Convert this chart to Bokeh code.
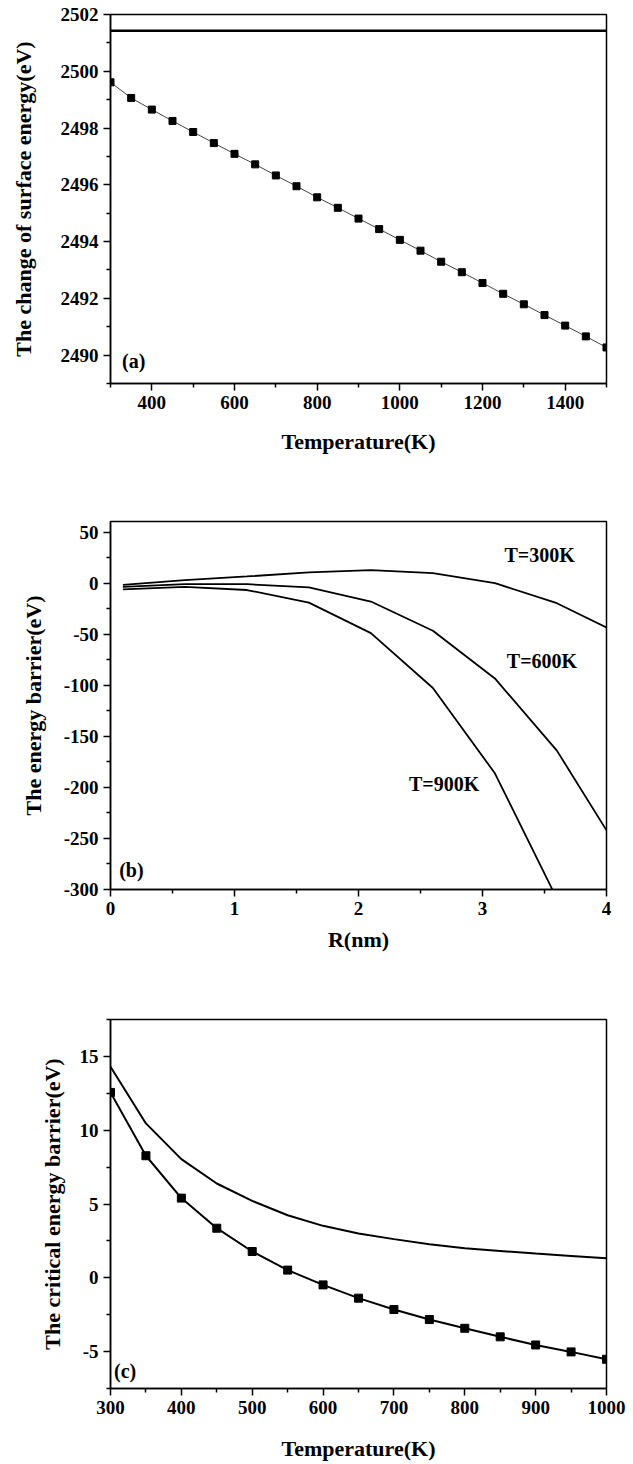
from bokeh.plotting import figure
from bokeh.layouts import column
from bokeh.models import FixedTicker, Range1d, Label, PrintfTickFormatter
from bokeh.embed import file_html
from bokeh.resources import INLINE

# ---------------- data ----------------
# (a) change of surface energy vs temperature
a_temp = [300, 350, 400, 450, 500, 550, 600, 650, 700, 750, 800, 850, 900,
          950, 1000, 1050, 1100, 1150, 1200, 1250, 1300, 1350, 1400, 1450, 1500]
a_energy = [2499.61, 2499.06, 2498.65, 2498.25, 2497.86, 2497.47, 2497.09,
            2496.72, 2496.33, 2495.95, 2495.56, 2495.19, 2494.81, 2494.44,
            2494.06, 2493.68, 2493.29, 2492.92, 2492.54, 2492.16, 2491.79,
            2491.41, 2491.04, 2490.66, 2490.27]
a_ref_level = 2501.43
a_xticks = [400, 600, 800, 1000, 1200, 1400]
a_yticks = [2490, 2492, 2494, 2496, 2498, 2500, 2502]

# (b) energy barrier vs R
b_r = [0.1, 0.6, 1.1, 1.6, 2.1, 2.6, 3.1, 3.6, 4.1]
b_t300 = [-1.7, 3.0, 6.6, 10.5, 12.7, 9.8, 0.0, -19.6, -49.4]
b_t600 = [-3.7, -1.0, -1.0, -4.2, -18.0, -46.6, -93.3, -164.0, -261.5]
b_r900 = [0.1, 0.6, 1.1, 1.6, 2.1, 2.6, 3.1, 3.6]
b_t900 = [-6.0, -3.7, -6.7, -19.0, -48.9, -102.7, -186.2, -309.0]
b_labels = ["T=300K", "T=600K", "T=900K"]
b_label_x = [3.46, 3.48, 2.69]
b_label_y = [28.0, -76.5, -197.0]
b_xticks = [0, 1, 2, 3, 4]
b_yticks = [-300, -250, -200, -150, -100, -50, 0, 50]

# (c) critical energy barrier vs temperature
c_temp = [300, 350, 400, 450, 500, 550, 600, 650, 700, 750, 800, 850, 900, 950, 1000]
c_upper = [14.30, 10.46, 8.04, 6.39, 5.21, 4.24, 3.52, 3.00, 2.62, 2.28,
           2.00, 1.82, 1.64, 1.48, 1.32]
c_lower = [12.56, 8.27, 5.40, 3.36, 1.78, 0.52, -0.48, -1.38, -2.15, -2.83,
           -3.42, -4.00, -4.55, -5.02, -5.52]
c_xticks = [300, 400, 500, 600, 700, 800, 900, 1000]
c_yticks = [-5, 0, 5, 10, 15]

FONT = "Liberation Serif"


def style(p, xticks, xminor, yticks, yminor, xlabel_standoff, ylabel_standoff):
    p.xgrid.visible = False
    p.ygrid.visible = False
    p.outline_line_color = "black"
    p.outline_line_width = 1.5
    p.background_fill_color = "white"
    p.border_fill_color = "white"
    p.xaxis.ticker = FixedTicker(ticks=xticks, minor_ticks=xminor)
    p.yaxis.ticker = FixedTicker(ticks=yticks, minor_ticks=yminor)
    for ax in (p.xaxis, p.yaxis):
        ax.formatter = PrintfTickFormatter(format="%d")
        ax.axis_line_width = 1.5
        ax.axis_line_color = "black"
        ax.major_tick_line_width = 1.5
        ax.minor_tick_line_width = 1.5
        ax.major_tick_in = 0
        ax.major_tick_out = 7
        ax.minor_tick_in = 0
        ax.minor_tick_out = 4
        ax.major_label_text_font = FONT
        ax.major_label_text_font_style = "bold"
        ax.major_label_text_font_size = "19px"
        ax.major_label_text_color = "black"
        ax.axis_label_text_font = FONT
        ax.axis_label_text_font_style = "bold"
        ax.axis_label_text_font_size = "22px"
        ax.axis_label_text_color = "black"
        ax.major_label_standoff = 5
    p.xaxis.axis_label_standoff = xlabel_standoff
    p.yaxis.axis_label_standoff = ylabel_standoff


def panel_label(p, text, x, y):
    p.add_layout(Label(x=x, y=y, text=text, text_font=FONT, text_font_style="bold",
                       text_font_size="20px", text_baseline="middle", text_align="left",
                       text_color="black"))


# ---------------- panel (a) ----------------
pa = figure(width=633, height=470, output_backend="svg", toolbar_location=None,
            x_range=Range1d(300, 1500), y_range=Range1d(2489, 2502),
            min_border_left=110, min_border_right=27, min_border_top=14, min_border_bottom=87,
            x_axis_label="Temperature(K)", y_axis_label="The change of surface energy(eV)")
style(pa, a_xticks, [300, 500, 700, 900, 1100, 1300, 1500], a_yticks,
      [2489, 2491, 2493, 2495, 2497, 2499, 2501], 17, 22)
pa.line([a_temp[0], a_temp[-1]], [a_ref_level, a_ref_level], line_color="black", line_width=2.5)
pa.line(a_temp, a_energy, line_color="#444444", line_width=1)
pa.scatter(a_temp, a_energy, marker="square", size=7, fill_color="black", line_color="black")
panel_label(pa, "(a)", 328, 2489.8)

# ---------------- panel (b) ----------------
pb = figure(width=633, height=490, output_backend="svg", toolbar_location=None,
            x_range=Range1d(0, 4), y_range=Range1d(-300, 60.4),
            min_border_left=110, min_border_right=27, min_border_top=51, min_border_bottom=71,
            x_axis_label="R(nm)", y_axis_label="The energy barrier(eV)")
style(pb, b_xticks, [0.5, 1.5, 2.5, 3.5], b_yticks,
      [-275, -225, -175, -125, -75, -25, 25], 9, 15)
pb.line(b_r, b_t300, line_color="black", line_width=1.8)
pb.line(b_r, b_t600, line_color="black", line_width=1.8)
pb.line(b_r900, b_t900, line_color="black", line_width=1.8)
for t, x, y in zip(b_labels, b_label_x, b_label_y):
    pb.add_layout(Label(x=x, y=y, text=t, text_font=FONT, text_font_style="bold",
                        text_font_size="20px", text_baseline="middle", text_align="center",
                        text_color="black"))
panel_label(pb, "(b)", 0.07, -281)

# ---------------- panel (c) ----------------
pc = figure(width=633, height=504, output_backend="svg", toolbar_location=None,
            x_range=Range1d(300, 1000), y_range=Range1d(-7.5, 17.5),
            min_border_left=110, min_border_right=27, min_border_top=59, min_border_bottom=76,
            x_axis_label="Temperature(K)", y_axis_label="The critical energy barrier(eV)")
style(pc, c_xticks, [350, 450, 550, 650, 750, 850, 950], c_yticks,
      [-7.5, -2.5, 2.5, 7.5, 12.5, 17.5], 19, 12)
pc.line(c_temp, c_upper, line_color="black", line_width=2)
pc.line(c_temp, c_lower, line_color="black", line_width=2)
pc.scatter(c_temp, c_lower, marker="square", size=8, fill_color="black", line_color="black")
panel_label(pc, "(c)", 305, -6.3)

layout = column(pa, pb, pc, spacing=0)
open("out.html", "w").write(file_html(layout, INLINE))
